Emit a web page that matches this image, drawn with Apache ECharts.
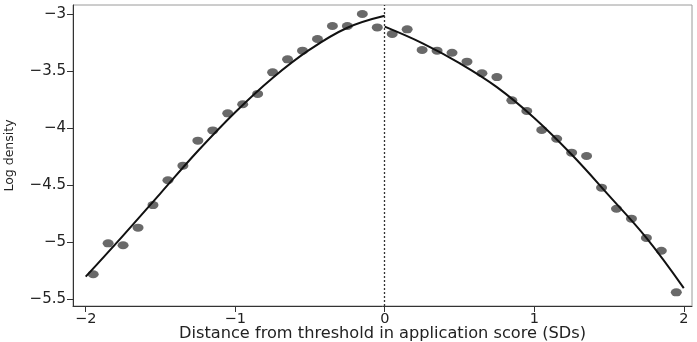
<!DOCTYPE html>
<html>
<head>
<meta charset="utf-8">
<script src="https://cdn.jsdelivr.net/npm/echarts@6/dist/echarts.min.js"></script>
<style>
  html, body { margin: 0; padding: 0; background: #fff; }
  #chart { width: 697px; height: 342px; }
</style>
</head>
<body>
<div id="chart"></div>
<script>
// Bin midpoints (SDs from threshold) and log density in each bin
const binMid = [-1.95, -1.85, -1.75, -1.65, -1.55, -1.45, -1.35, -1.25, -1.15, -1.05,
                -0.95, -0.85, -0.75, -0.65, -0.55, -0.45, -0.35, -0.25, -0.15, -0.05,
                 0.05,  0.15,  0.25,  0.35,  0.45,  0.55,  0.65,  0.75,  0.85,  0.95,
                 1.05,  1.15,  1.25,  1.35,  1.45,  1.55,  1.65,  1.75,  1.85,  1.95];
const logDensity = [-5.279, -5.008, -5.025, -4.871, -4.673, -4.456, -4.328, -4.109, -4.019, -3.870,
                    -3.790, -3.700, -3.511, -3.397, -3.321, -3.219, -3.105, -3.105, -3.000, -3.117,
                    -3.175, -3.134, -3.315, -3.321, -3.339, -3.417, -3.519, -3.552, -3.756, -3.849,
                    -4.016, -4.092, -4.214, -4.243, -4.521, -4.705, -4.792, -4.961, -5.073, -5.437];

// Fitted curve below the threshold
const fitLeftX = [-2, -1.75, -1.5, -1.25, -1, -0.75, -0.5, -0.25, 0];
const fitLeftY = [-5.30, -4.94, -4.57, -4.20, -3.86, -3.56, -3.31, -3.12, -3.015];
// Fitted curve above the threshold
const fitRightX = [0, 0.25, 0.5, 0.75, 1, 1.25, 1.5, 1.75, 2];
const fitRightY = [-3.111, -3.255, -3.43, -3.64, -3.91, -4.23, -4.59, -4.96, -5.40];

const xTicks = [-2, -1, 0, 1, 2];
const yTicks = [-5.5, -5, -4.5, -4, -3.5, -3];
const threshold = 0;

const pairs = (xs, ys) => xs.map((x, i) => [x, ys[i]]);
const minus = v => String(v).replace('-', '\u2212');

const FONT = 'DejaVu Sans';
const chart = echarts.init(document.getElementById('chart'));

chart.setOption({
  animation: false,
  backgroundColor: '#fff',
  grid: {
    left: 73, right: 5, top: 5, bottom: 36,
    outerBoundsMode: 'none',
    containLabel: false,
    show: true, borderColor: '#9a9a9a', borderWidth: 1
  },
  xAxis: {
    type: 'value',
    min: -2.085, max: 2.055,
    name: 'Distance from threshold in application score (SDs)',
    nameLocation: 'middle',
    nameGap: 20,
    nameMoveOverlap: false,
    nameTextStyle: { fontFamily: FONT, fontSize: 16.2, color: '#222' },
    axisLine: { show: true, onZero: false, lineStyle: { color: '#333', width: 1 } },
    axisTick: { show: true, length: 6, customValues: xTicks, lineStyle: { color: '#333' } },
    axisLabel: { customValues: xTicks, formatter: minus, margin: 6,
                 fontFamily: FONT, fontSize: 14.5, color: '#222' },
    splitLine: { show: false }
  },
  yAxis: {
    type: 'value',
    min: -5.557, max: -2.921,
    name: 'Log density',
    nameLocation: 'middle',
    nameGap: 57,
    nameMoveOverlap: false,
    nameTextStyle: { fontFamily: FONT, fontSize: 12.5, color: '#222' },
    axisLine: { show: true, onZero: false, lineStyle: { color: '#333', width: 1 } },
    axisTick: { show: true, length: 6, customValues: yTicks, lineStyle: { color: '#333' } },
    axisLabel: { customValues: yTicks, formatter: minus, margin: 7,
                 fontFamily: FONT, fontSize: 15, color: '#222' },
    splitLine: { show: false }
  },
  series: [
    {
      type: 'scatter',
      data: pairs(binMid, logDensity),
      symbol: 'circle',
      symbolSize: [11, 8],
      itemStyle: { color: '#444' },
      z: 3,
      markLine: {
        silent: true,
        symbol: 'none',
        label: { show: false },
        lineStyle: { color: '#333', type: [2, 2], width: 1.3 },
        data: [{ xAxis: threshold }]
      }
    },
    {
      type: 'line',
      data: pairs(fitLeftX, fitLeftY),
      smooth: 0.4,
      showSymbol: false,
      lineStyle: { color: '#111', width: 2 },
      z: 4
    },
    {
      type: 'line',
      data: pairs(fitRightX, fitRightY),
      smooth: 0.4,
      showSymbol: false,
      lineStyle: { color: '#111', width: 2 },
      z: 4
    }
  ]
});
</script>
</body>
</html>
